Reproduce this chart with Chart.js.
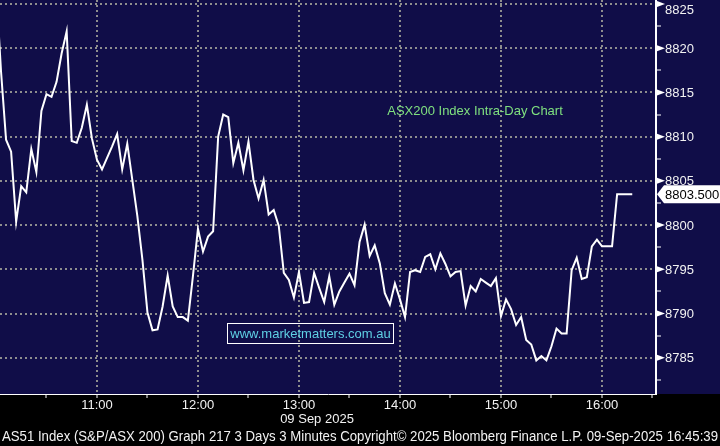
<!DOCTYPE html>
<html>
<head>
<meta charset="utf-8">
<script src="https://cdn.jsdelivr.net/npm/chart.js@4/dist/chart.umd.min.js"></script>
<style>
html,body{margin:0;padding:0;background:#000;}
#wrap{width:720px;height:446px;position:relative;}
</style>
</head>
<body>
<div id="wrap"><canvas id="c"></canvas></div>
<script>
// ---- data ----
const firstMinute = 0;      // minutes after 10:00 of first 3-minute bar
const barMinutes = 3;       // bar interval
const asx200 = [
 8827.2, 8817.4, 8809.65, 8808.3, 8800.4, 8804.4, 8803.7, 8808.6, 8806.0, 8812.9,
 8814.8, 8814.5, 8816.2, 8819.4, 8821.9, 8809.5, 8809.3, 8811.0, 8813.6, 8809.8,
 8807.4, 8806.3, 8807.6, 8808.9, 8810.3, 8806.3, 8809.2, 8805.1, 8801.0, 8796.1,
 8790.1, 8788.1, 8788.2, 8790.8, 8794.3, 8790.8, 8789.6, 8789.6, 8789.2, 8794.2,
 8799.6, 8797.0, 8798.7, 8799.3, 8810.0, 8812.5, 8812.2, 8807.0, 8809.3, 8806.2,
 8809.45, 8805.1, 8803.0, 8805.1, 8801.2, 8801.7, 8799.9, 8794.6, 8793.8, 8791.8,
 8794.7, 8791.2, 8791.3, 8794.6, 8792.9, 8791.3, 8794.2, 8791.0, 8792.5, 8793.5,
 8794.5, 8793.2, 8798.1, 8800.05, 8796.5, 8797.7, 8795.7, 8792.3, 8791.0, 8793.4,
 8791.6, 8789.6, 8794.7, 8794.9, 8794.7, 8796.4, 8796.7, 8795.0, 8796.8, 8795.6,
 8794.2, 8794.7, 8794.8, 8790.9, 8793.1, 8792.5, 8793.9, 8793.5, 8793.1, 8794.0,
 8789.7, 8791.6, 8790.5, 8788.7, 8789.6, 8787.0, 8786.5, 8784.7, 8785.2, 8784.7,
 8786.3, 8788.3, 8787.75, 8787.75, 8794.9, 8796.3, 8793.9, 8794.1, 8797.6, 8798.35,
 8797.6, 8797.6, 8797.6, 8803.5, 8803.5, 8803.5, 8803.5
];
const lastPrice = 8803.5;
const xTickMinutes = [30, 60, 90, 120, 150, 180, 210, 240, 270, 300, 330, 360, 390];
const xHourMinutes = [60, 120, 180, 240, 300, 360];
const xHourLabels = ["11:00", "12:00", "13:00", "14:00", "15:00", "16:00"];
const yTickValues = [8782.5, 8785, 8787.5, 8790, 8792.5, 8795, 8797.5, 8800, 8802.5, 8805, 8807.5, 8810, 8812.5, 8815, 8817.5, 8820, 8822.5, 8825];
const yMajorValues = [8785, 8790, 8795, 8800, 8805, 8810, 8815, 8820, 8825];
const yMajorLabels = ["8785", "8790", "8795", "8800", "8805", "8810", "8815", "8820", "8825"];
const dateLabel = "09 Sep 2025";
const chartTitle = "ASX200 Index Intra-Day Chart";
const watermark = "www.marketmatters.com.au";
const footer = "AS51 Index (S&P/ASX 200) Graph 217 3 Days 3 Minutes Copyright\u00A9 2025 Bloomberg Finance L.P. 09-Sep-2025 16:45:39";

const points = asx200.map((v, i) => ({ x: firstMinute + i * barMinutes, y: v }));

const NAVY = '#100d48';
const GRID = '#8e8e8e';
const FONT = '"Liberation Sans", Arial, sans-serif';

const isMajorY = v => yMajorValues.includes(v);
const isHour = v => xHourMinutes.includes(v);

const bgPlugin = {
  id: 'bg',
  beforeDraw(chart) {
    const { ctx } = chart;
    const bottom = chart.chartArea.bottom;
    ctx.save();
    ctx.fillStyle = '#000';
    ctx.fillRect(0, 0, chart.width, chart.height);
    ctx.fillStyle = NAVY;
    ctx.fillRect(0, 0, chart.width, bottom);
    ctx.restore();
  }
};

const decoPlugin = {
  id: 'deco',
  afterDraw(chart) {
    const { ctx, chartArea } = chart;
    const ys = chart.scales.y;
    const xs = chart.scales.x;
    ctx.save();
    // y-axis triangles and labels
    ctx.font = '13px ' + FONT;
    ctx.textBaseline = 'middle';
    ctx.textAlign = 'left';
    yMajorValues.forEach((v, i) => {
      const py = ys.getPixelForValue(v);
      ctx.fillStyle = '#ffffff';
      ctx.beginPath();
      ctx.moveTo(chartArea.right + 1, py - 3);
      ctx.lineTo(chartArea.right + 9, py);
      ctx.lineTo(chartArea.right + 1, py + 3);
      ctx.closePath();
      ctx.fill();
      ctx.fillStyle = '#f2f2f2';
      ctx.fillText(yMajorLabels[i], chartArea.right + 9, Math.max(py + 1, 10));
    });
    // last price box
    const pp = ys.getPixelForValue(lastPrice);
    const bx = chartArea.right + 1;
    ctx.fillStyle = '#ffffff';
    ctx.beginPath();
    ctx.moveTo(bx, pp);
    ctx.lineTo(bx + 7, pp - 9);
    ctx.lineTo(chart.width, pp - 9);
    ctx.lineTo(chart.width, pp + 9);
    ctx.lineTo(bx + 7, pp + 9);
    ctx.closePath();
    ctx.fill();
    ctx.fillStyle = '#000000';
    ctx.fillText(lastPrice.toFixed(3), bx + 8, pp + 1);

    // chart title
    ctx.textAlign = 'center';
    ctx.fillStyle = '#7fe07f';
    ctx.font = '13px ' + FONT;
    ctx.fillText(chartTitle, 475, 111);

    // watermark box
    ctx.strokeStyle = '#ffffff';
    ctx.lineWidth = 1;
    ctx.strokeRect(227.5, 323.5, 166, 20);
    ctx.fillStyle = '#5fd0e4';
    ctx.fillText(watermark, 310.5, 334);

    // date under axis
    ctx.fillStyle = '#f2f2f2';
    ctx.fillText(dateLabel, 317, 419);

    // footer
    ctx.textAlign = 'left';
    ctx.font = '14px ' + FONT;
    ctx.fillText(footer, 2, 437, 716);
    ctx.restore();
  }
};

new Chart(document.getElementById('c'), {
  type: 'line',
  data: {
    datasets: [{
      data: points,
      borderColor: '#ffffff',
      borderWidth: 2,
      pointRadius: 0,
      tension: 0,
      fill: false
    }]
  },
  options: {
    responsive: true,
    maintainAspectRatio: false,
    animation: false,
    devicePixelRatio: 1,
    layout: { padding: 0 },
    plugins: { legend: { display: false }, tooltip: { enabled: false } },
    scales: {
      x: {
        type: 'linear',
        position: 'bottom',
        min: 2.4,
        max: 392.1,
        afterBuildTicks(s) { s.ticks = xTickMinutes.map(v => ({ value: v })); },
        afterFit(s) { s.height = 52; },
        ticks: {
          autoSkip: false,
          maxRotation: 0,
          color: '#f2f2f2',
          font: { size: 13, family: FONT },
          padding: 0,
          callback: v => { const i = xHourMinutes.indexOf(v); return i >= 0 ? xHourLabels[i] : ''; }
        },
        grid: {
          color: ctx => (ctx.tick && isHour(ctx.tick.value)) ? GRID : 'rgba(0,0,0,0)',
          lineWidth: 2,
          drawTicks: true,
          tickLength: 4,
          tickColor: '#ffffff',
          tickWidth: 1,
          tickBorderDash: []
        },
        border: { display: true, color: '#ffffff', width: 1, dash: [2, 3] }
      },
      y: {
        type: 'linear',
        position: 'right',
        min: 8780.9,
        max: 8825.45,
        afterBuildTicks(s) { s.ticks = yTickValues.map(v => ({ value: v })); },
        afterFit(s) { s.width = 64; },
        ticks: { display: false, autoSkip: false },
        grid: {
          color: ctx => (ctx.tick && isMajorY(ctx.tick.value)) ? GRID : 'rgba(0,0,0,0)',
          lineWidth: 2,
          drawTicks: true,
          tickLength: 5,
          tickColor: ctx => (ctx.tick && isMajorY(ctx.tick.value)) ? 'rgba(0,0,0,0)' : '#ffffff',
          tickWidth: 1,
          tickBorderDash: []
        },
        border: { display: true, color: '#ffffff', width: 2, dash: [2, 3] }
      }
    }
  },
  plugins: [bgPlugin, decoPlugin]
});
</script>
</body>
</html>
